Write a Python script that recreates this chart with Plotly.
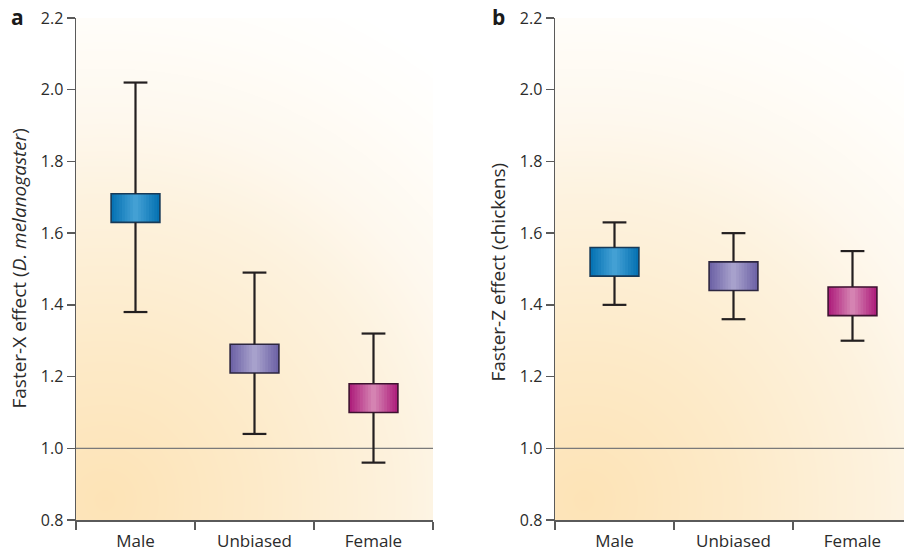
import plotly.graph_objects as go

# ---------------- data ----------------
CATEGORIES = ["Male", "Unbiased", "Female"]

# panel a: Faster-X effect (D. melanogaster)
A_WHISKER_LOW = [1.38, 1.04, 0.96]
A_BOX_LOW = [1.63, 1.21, 1.10]
A_BOX_HIGH = [1.71, 1.29, 1.18]
A_WHISKER_HIGH = [2.02, 1.49, 1.32]

# panel b: Faster-Z effect (chickens)
B_WHISKER_LOW = [1.40, 1.36, 1.30]
B_BOX_LOW = [1.48, 1.44, 1.37]
B_BOX_HIGH = [1.56, 1.52, 1.45]
B_WHISKER_HIGH = [1.63, 1.60, 1.55]

Y_TICKS = [0.8, 1.0, 1.2, 1.4, 1.6, 1.8, 2.0, 2.2]
REFERENCE = 1.0

# ---------------- style ----------------
W, H = 904, 552
FONT = "Open Sans"
AXIS_COLOR = "#5a5a5a"
TEXT_COLOR = "#2b2b2b"
EDGE_COLORS = ["#0672b3", "#6e63a6", "#ae1f7c"]
CENTER_COLORS = ["#43a0d4", "#a7a1cc", "#d583b2"]
BORDER_COLORS = ["#173a58", "#2c2640", "#3d1230"]
BOX_W = 0.41
CAP_HALF = 0.1
N_LAYERS = 9


def hex2rgb(h):
    h = h.lstrip("#")
    return tuple(int(h[i:i + 2], 16) for i in (0, 2, 4))


def mix(c1, c2, t):
    a, b = hex2rgb(c1), hex2rgb(c2)
    return "rgb(%d,%d,%d)" % tuple(round(a[i] + (b[i] - a[i]) * t) for i in range(3))


def px_x(p):
    return p / W


def px_y(p):
    return 1 - p / H


PLOT_TOP, PLOT_BOTTOM = 18, 520
DOMAINS = [(76, 433), (555, 904)]
Y_DOMAIN = [px_y(PLOT_BOTTOM), px_y(PLOT_TOP)]

fig = go.Figure()

# background radial gradient (decoration only)
NG = 70
PW, PH = 357.0, 502.0
gx = [i / (NG - 1) for i in range(NG)]
gy = [j / (NG - 1) for j in range(NG)]
cx, cy = 0.08, 0.04
zgrid = [[min(1.0, (((x - cx) * PW) ** 2 + ((y - cy) * PH) ** 2) ** 0.5 / 600.0) for x in gx] for y in gy]
bg_scale = [[0, "#fde3b6"], [0.25, "#fdeac8"], [0.5, "#fdf2de"], [0.64, "#fef8ee"],
            [0.8, "#fffdf9"], [0.92, "#ffffff"], [1, "#ffffff"]]

panels = [
    (A_WHISKER_LOW, A_BOX_LOW, A_BOX_HIGH, A_WHISKER_HIGH),
    (B_WHISKER_LOW, B_BOX_LOW, B_BOX_HIGH, B_WHISKER_HIGH),
]

for p, (wl, bl, bh, wh) in enumerate(panels):
    bx = "x" if p == 0 else "x3"
    by = "y" if p == 0 else "y3"
    ox = "x2" if p == 0 else "x4"
    oy = "y2" if p == 0 else "y4"
    fig.add_trace(go.Heatmap(x=gx, y=gy, z=zgrid, colorscale=bg_scale, zmin=0, zmax=1,
                             showscale=False, zsmooth="best", hoverinfo="skip",
                             xaxis=bx, yaxis=by))
    xs = list(range(len(CATEGORIES)))
    # reference line
    fig.add_trace(go.Scatter(x=[-0.5, 2.5], y=[REFERENCE, REFERENCE], mode="lines",
                             line=dict(color="#7a7a7a", width=1.2), hoverinfo="skip",
                             showlegend=False, xaxis=ox, yaxis=oy))
    heights = [h - l for h, l in zip(bh, bl)]
    for k in range(N_LAYERS):
        t = k / (N_LAYERS - 1)
        fig.add_trace(go.Bar(x=xs, y=heights, base=bl, width=BOX_W * (1 - k / N_LAYERS),
                             marker=dict(color=[mix(EDGE_COLORS[i], CENTER_COLORS[i], t) for i in xs],
                                         line=dict(width=0)),
                             hoverinfo="skip", showlegend=False, xaxis=ox, yaxis=oy))
    fig.add_trace(go.Bar(x=xs, y=heights, base=bl, width=BOX_W,
                         marker=dict(color="rgba(0,0,0,0)",
                                     line=dict(width=1.6, color=BORDER_COLORS)),
                         hoverinfo="skip", showlegend=False, xaxis=ox, yaxis=oy))
    # whiskers and caps
    lx, ly = [], []
    for i in xs:
        lx += [i, i, None, i - CAP_HALF, i + CAP_HALF, None]
        ly += [bh[i], wh[i], None, wh[i], wh[i], None]
        lx += [i, i, None, i - CAP_HALF, i + CAP_HALF, None]
        ly += [bl[i], wl[i], None, wl[i], wl[i], None]
    fig.add_trace(go.Scatter(x=lx, y=ly, mode="lines", line=dict(color="#231f20", width=2.2),
                             hoverinfo="skip", showlegend=False, xaxis=ox, yaxis=oy))

layout = dict(
    width=W, height=H, margin=dict(l=0, r=0, t=0, b=0, pad=0),
    paper_bgcolor="white", plot_bgcolor="rgba(0,0,0,0)",
    barmode="overlay", showlegend=False,
    font=dict(family=FONT, color=TEXT_COLOR, size=15),
)

for p, (d0, d1) in enumerate(DOMAINS):
    base_x = "xaxis" if p == 0 else "xaxis3"
    base_y = "yaxis" if p == 0 else "yaxis3"
    ov_x = "xaxis2" if p == 0 else "xaxis4"
    ov_y = "yaxis2" if p == 0 else "yaxis4"
    bxid = "x" if p == 0 else "x3"
    byid = "y" if p == 0 else "y3"
    oxid = "x2" if p == 0 else "x4"
    oyid = "y2" if p == 0 else "y4"
    xr_end = 2.5 if p == 0 else -0.5 + (d1 - d0) / ((433 - 76) / 3.0)
    layout[base_x] = dict(domain=[px_x(d0), px_x(d1)], range=[0, (d1 - d0) / PW], visible=False,
                          anchor=byid, fixedrange=True, automargin=False)
    layout[base_y] = dict(domain=Y_DOMAIN, range=[0, 1], visible=False, anchor=bxid,
                          fixedrange=True, automargin=False)
    layout[ov_x] = dict(overlaying=bxid, anchor=oyid, range=[-0.5, xr_end],
                        tickmode="array", tickvals=[0, 1, 2], ticktext=CATEGORIES,
                        ticks="outside", ticklen=5, tickcolor="rgba(0,0,0,0)",
                        minor=dict(tickmode="array", tickvals=[-0.5, 0.5, 1.5, 2.5],
                                   ticks="outside", ticklen=8, tickwidth=1.5, tickcolor=AXIS_COLOR),
                        showline=True, linecolor=AXIS_COLOR, linewidth=1.5,
                        showgrid=False, zeroline=False, tickfont=dict(size=17),
                        ticklabeloverflow="allow",
                        fixedrange=True, automargin=False)
    layout[ov_y] = dict(overlaying=byid, anchor=oxid, side="left", range=[0.8, 2.2],
                        tickmode="array", tickvals=Y_TICKS, tickformat=".1f",
                        ticks="outside", ticklen=8, tickwidth=1.5, tickcolor=AXIS_COLOR,
                        showline=True, linecolor=AXIS_COLOR, linewidth=1.5,
                        showgrid=False, zeroline=False, tickfont=dict(size=16),
                        ticklabeloverflow="allow",
                        fixedrange=True, automargin=False)

fig.update_layout(**layout)

common = dict(xref="paper", yref="paper", showarrow=False, xanchor="center", yanchor="middle")
annotations = [
    dict(text="<b>a</b>", x=px_x(17), y=px_y(17), font=dict(size=21, color="#1a1a1a"), **common),
    dict(text="<b>b</b>", x=px_x(498), y=px_y(17), font=dict(size=21, color="#1a1a1a"), **common),
    dict(text="Faster-X effect (<i>D. melanogaster</i>)", x=px_x(18.5), y=px_y(269),
         textangle=-90, font=dict(size=19), **common),
    dict(text="Faster-Z effect (chickens)", x=px_x(497.5), y=px_y(272),
         textangle=-90, font=dict(size=19), **common),
]
fig.update_layout(annotations=annotations)

# remove the default page margin so the figure sits at the window's top-left corner
fig.write_html("out.html", config={"displayModeBar": False, "staticPlot": True},
               post_script="document.body.style.margin='0';")
